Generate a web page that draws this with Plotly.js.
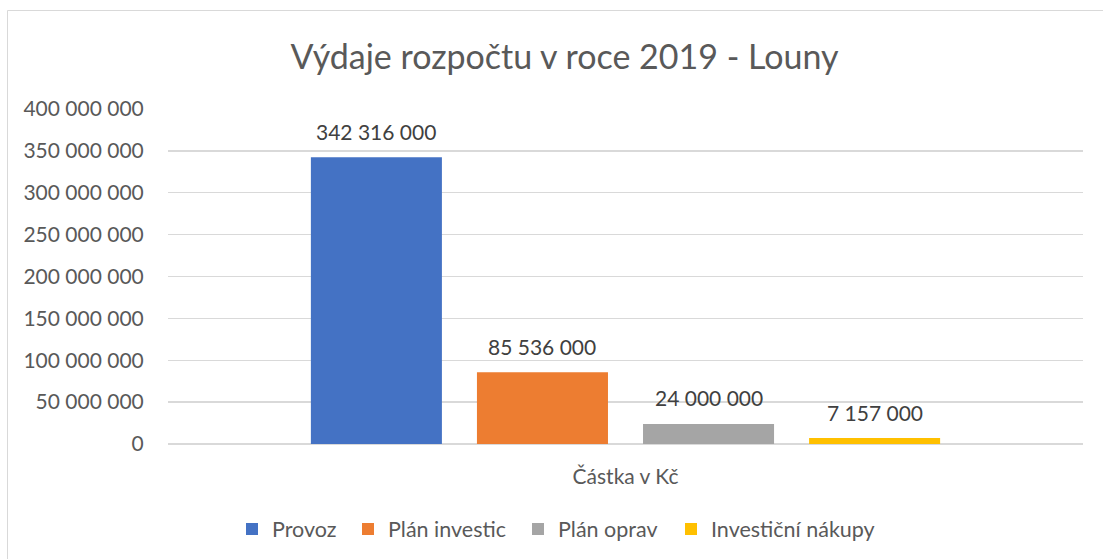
<!DOCTYPE html>
<html>
<head>
<meta charset="utf-8">
<script src="https://cdn.plot.ly/plotly-3.0.1.min.js"></script>
<style>
  html, body { margin: 0; padding: 0; background: #ffffff; overflow: hidden; }
  #chart { width: 1103px; height: 559px; }
</style>
</head>
<body>
<div id="chart"></div>
<script>
// ---- data ----
const category = ["Částka v Kč"];
const seriesNames = ["Provoz", "Plán investic", "Plán oprav", "Investiční nákupy"];
const seriesValues = [342316000, 85536000, 24000000, 7157000];
const seriesColors = ["#4472C4", "#ED7D31", "#A5A5A5", "#FFC000"];
const tickValues = [0, 50000000, 100000000, 150000000, 200000000, 250000000, 300000000, 350000000, 400000000];
const tickLabels = ["0", "50 000 000", "100 000 000", "150 000 000", "200 000 000", "250 000 000", "300 000 000", "350 000 000", "400 000 000"];
const chartTitle = "Výdaje rozpočtu v roce 2019 - Louny";

function fmt(v) {
  return String(v).replace(/\B(?=(\d{3})+(?!\d))/g, " ");
}

// ---- layout constants ----
const FONT = 'Lato, "Open Sans", sans-serif';
const W = 1103, H = 559;
const M = { l: 168, r: 20, t: 109, b: 115 };
const plotW = W - M.l - M.r;
const bargap = 0.274;
const bargroupgap = 0.211;
const slot = (1 - bargap) / seriesNames.length;
// left pixel of each legend entry's text
const legendTextPx = [272, 388, 558, 711];
const legendKeys = seriesNames.map((n, i) => i === 0 ? "legend" : "legend" + (i + 1));

const traces = seriesNames.map((name, i) => ({
  type: "bar",
  name: name,
  x: category,
  y: [seriesValues[i]],
  marker: { color: seriesColors[i] },
  legend: legendKeys[i],
  hoverinfo: "skip"
}));

const annotations = seriesNames.map((name, i) => ({
  xref: "x",
  yref: "y",
  x: 0 + (i - (seriesNames.length - 1) / 2) * slot,
  y: seriesValues[i],
  text: fmt(seriesValues[i]),
  showarrow: false,
  yanchor: "middle",
  xanchor: "center",
  yshift: 26,
  font: { family: FONT, size: 21, color: "#404040" }
}));

const layout = {
  width: W,
  height: H,
  margin: M,
  paper_bgcolor: "#ffffff",
  plot_bgcolor: "#ffffff",
  font: { family: FONT, color: "#595959", size: 21 },
  title: {
    text: chartTitle,
    font: { family: FONT, size: 34, color: "#595959" },
    xref: "container",
    yref: "container",
    x: 564.5 / W,
    y: 1 - 57 / H,
    xanchor: "center",
    yanchor: "middle"
  },
  barmode: "group",
  bargap: bargap,
  bargroupgap: bargroupgap,
  xaxis: {
    type: "category",
    showgrid: false,
    showline: false,
    zeroline: false,
    ticks: "outside",
    ticklen: 14,
    tickcolor: "rgba(0,0,0,0)",
    tickfont: { family: FONT, size: 21, color: "#595959" },
    fixedrange: true
  },
  yaxis: {
    range: [0, 400000000],
    tickmode: "array",
    tickvals: tickValues,
    ticktext: tickLabels,
    showgrid: true,
    gridcolor: "#D9D9D9",
    gridwidth: 1.3,
    zeroline: true,
    zerolinecolor: "#D9D9D9",
    zerolinewidth: 1.3,
    showline: false,
    ticks: "outside",
    ticklen: 19,
    tickcolor: "rgba(0,0,0,0)",
    tickfont: { family: FONT, size: 21, color: "#595959" },
    fixedrange: true
  },
  annotations: annotations,
  shapes: [{
    type: "rect",
    xref: "paper",
    yref: "paper",
    x0: (7.5 - M.l) / plotW,
    x1: 1.3,
    y0: -0.6,
    y1: (444 - 10.5) / 335,
    line: { color: "#D9D9D9", width: 1 },
    fillcolor: "rgba(0,0,0,0)",
    layer: "below"
  }],
  showlegend: true
};

legendKeys.forEach((key, i) => {
  layout[key] = {
    orientation: "h",
    xref: "paper",
    x: (legendTextPx[i] - 40 - M.l) / plotW,
    xanchor: "left",
    yref: "container",
    y: 1 - 529 / H,
    yanchor: "middle",
    font: { family: FONT, size: 21.5, color: "#595959" },
    bgcolor: "rgba(0,0,0,0)",
    borderwidth: 0
  };
});

Plotly.newPlot("chart", traces, layout, { displayModeBar: false, staticPlot: true });
</script>
</body>
</html>
